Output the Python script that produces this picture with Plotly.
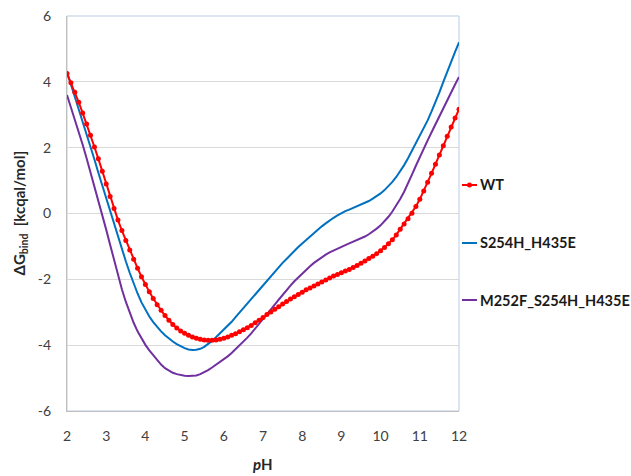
import plotly.graph_objects as go

ph = [round(2 + 0.1 * i, 1) for i in range(101)]

wt = [4.25, 3.97, 3.68, 3.38, 3.05, 2.72, 2.38, 2.02, 1.66, 1.28,
      0.90, 0.52, 0.15, -0.20, -0.52, -0.82, -1.11, -1.39, -1.66, -1.92,
      -2.16, -2.38, -2.58, -2.77, -2.94, -3.10, -3.24, -3.37, -3.48, -3.57,
      -3.64, -3.70, -3.75, -3.79, -3.82, -3.84, -3.85, -3.85, -3.84, -3.82,
      -3.79, -3.75, -3.70, -3.65, -3.59, -3.53, -3.47, -3.40, -3.32, -3.24,
      -3.16, -3.07, -2.99, -2.91, -2.83, -2.75, -2.67, -2.60, -2.53, -2.46,
      -2.39, -2.32, -2.26, -2.20, -2.14, -2.08, -2.02, -1.96, -1.90, -1.85,
      -1.80, -1.75, -1.70, -1.64, -1.58, -1.51, -1.44, -1.37, -1.30, -1.22,
      -1.13, -1.03, -0.92, -0.80, -0.65, -0.48, -0.32, -0.16, 0.01, 0.21,
      0.43, 0.68, 0.95, 1.22, 1.50, 1.78, 2.06, 2.35, 2.63, 2.90,
      3.17]

s254h = [4.30, 3.93, 3.56, 3.18, 2.80, 2.42, 2.03, 1.64, 1.24, 0.85,
         0.45, 0.05, -0.33, -0.71, -1.09, -1.45, -1.80, -2.13, -2.43, -2.70,
         -2.93, -3.13, -3.30, -3.45, -3.58, -3.70, -3.80, -3.89, -3.97, -4.04,
         -4.09, -4.13, -4.15, -4.14, -4.11, -4.05, -3.97, -3.87, -3.76, -3.65,
         -3.54, -3.42, -3.29, -3.15, -3.01, -2.87, -2.74, -2.61, -2.48, -2.34,
         -2.20, -2.05, -1.90, -1.76, -1.63, -1.50, -1.38, -1.25, -1.13, -1.02,
         -0.91, -0.80, -0.69, -0.58, -0.48, -0.39, -0.30, -0.21, -0.13, -0.06,
         0.01, 0.07, 0.12, 0.17, 0.22, 0.27, 0.32, 0.38, 0.45, 0.52,
         0.61, 0.71, 0.83, 0.96, 1.11, 1.28, 1.47, 1.68, 1.91, 2.13,
         2.35, 2.58, 2.83, 3.10, 3.38, 3.68, 4.00, 4.32, 4.62, 4.91,
         5.20]

m252f = [3.60, 3.24, 2.87, 2.49, 2.09, 1.68, 1.26, 0.84, 0.41, -0.03,
         -0.49, -0.95, -1.42, -1.88, -2.30, -2.68, -3.02, -3.32, -3.58, -3.80,
         -3.99, -4.16, -4.31, -4.45, -4.59, -4.70, -4.78, -4.84, -4.88, -4.91,
         -4.93, -4.94, -4.94, -4.92, -4.88, -4.83, -4.76, -4.68, -4.60, -4.52,
         -4.43, -4.34, -4.24, -4.13, -4.02, -3.90, -3.77, -3.64, -3.50, -3.36,
         -3.22, -3.07, -2.92, -2.77, -2.62, -2.47, -2.33, -2.19, -2.06, -1.94,
         -1.82, -1.71, -1.60, -1.50, -1.41, -1.33, -1.25, -1.18, -1.12, -1.06,
         -1.01, -0.96, -0.91, -0.86, -0.81, -0.76, -0.70, -0.63, -0.55, -0.46,
         -0.36, -0.24, -0.10, 0.06, 0.24, 0.44, 0.66, 0.90, 1.18, 1.45,
         1.72, 1.97, 2.22, 2.47, 2.72, 2.97, 3.21, 3.45, 3.69, 3.92,
         4.15]

names = ["WT", "S254H_H435E", "M252F_S254H_H435E"]
colors = ["#FF0000", "#0070C0", "#7030A0"]

x_ticks = list(range(2, 13))
y_ticks = list(range(-6, 7, 2))

fig = go.Figure()
fig.add_trace(go.Scatter(x=ph, y=m252f, mode="lines", name=names[2],
                         line=dict(color=colors[2], width=2)))
fig.add_trace(go.Scatter(x=ph, y=s254h, mode="lines", name=names[1],
                         line=dict(color=colors[1], width=2)))
fig.add_trace(go.Scatter(x=ph, y=wt, mode="lines+markers", name=names[0],
                         line=dict(color=colors[0], width=2),
                         marker=dict(color=colors[0], size=5)))

W, H = 631, 476
L, R, T, B = 67, 172, 16, 65
pw, ph_ = W - L - R, H - T - B

# manual legend
leg_y = [185, 243, 300]
shapes = [dict(type="rect", xref="paper", yref="paper", x0=0, x1=1, y0=0, y1=1,
               line=dict(color="#B9CDE5", width=1), layer="below")]
annotations = []
for i, (nm, col) in enumerate(zip(names, colors)):
    yp = (H - B - leg_y[i]) / ph_
    x0 = (462 - L) / pw
    x1 = (477 - L) / pw
    shapes.append(dict(type="line", xref="paper", yref="paper", x0=x0, x1=x1,
                       y0=yp, y1=yp, line=dict(color=col, width=2)))
    if i == 0:
        xc = (469.5 - L) / pw
        rx, ry = 2.5 / pw, 2.5 / ph_
        shapes.append(dict(type="circle", xref="paper", yref="paper",
                           x0=xc - rx, x1=xc + rx, y0=yp - ry, y1=yp + ry,
                           fillcolor=col, line=dict(color=col, width=0)))
    annotations.append(dict(text="<b>" + nm + "</b>", xref="paper", yref="paper",
                            x=(478 - L) / pw, y=yp, xanchor="left", yanchor="middle",
                            showarrow=False, font=dict(size=14.5, color="#1a1a1a",
                                                       family="Lato")))

# axis titles
annotations.append(dict(text="<b><i>p</i>H</b>", xref="paper", yref="paper",
                        x=(263 - L) / pw, y=(H - B - 464) / ph_,
                        xanchor="center", yanchor="middle", showarrow=False,
                        font=dict(size=15, color="#262626", family="Lato")))
annotations.append(dict(text="<b>ΔG<sub>bind</sub>  [kcqal/mol]</b>",
                        xref="paper", yref="paper",
                        x=(19 - L) / pw, y=0.5, textangle=-90,
                        xanchor="center", yanchor="middle", showarrow=False,
                        font=dict(size=15, color="#262626", family="Lato")))

fig.update_layout(
    width=W, height=H,
    margin=dict(l=L, r=R, t=T, b=B, pad=0),
    paper_bgcolor="white", plot_bgcolor="white",
    showlegend=False,
    font=dict(family="Lato", color="#404040"),
    shapes=shapes, annotations=annotations,
    xaxis=dict(range=[2, 12], tickvals=x_ticks, ticktext=[str(v) for v in x_ticks],
               showgrid=False, zeroline=False, showline=True, linecolor="#BFBFBF",
               linewidth=1, ticks="", tickfont=dict(size=14, color="#404040"),
               ticklabelstandoff=12, automargin=False),
    yaxis=dict(range=[-6, 6], tickvals=y_ticks, ticktext=[str(v) for v in y_ticks],
               showgrid=True, gridcolor="#D9D9D9", gridwidth=1, zeroline=False,
               showline=True, linecolor="#BFBFBF", linewidth=1, ticks="",
               tickfont=dict(size=14, color="#404040"), ticklabelstandoff=12,
               automargin=False),
)

fig.write_html("out.html")
